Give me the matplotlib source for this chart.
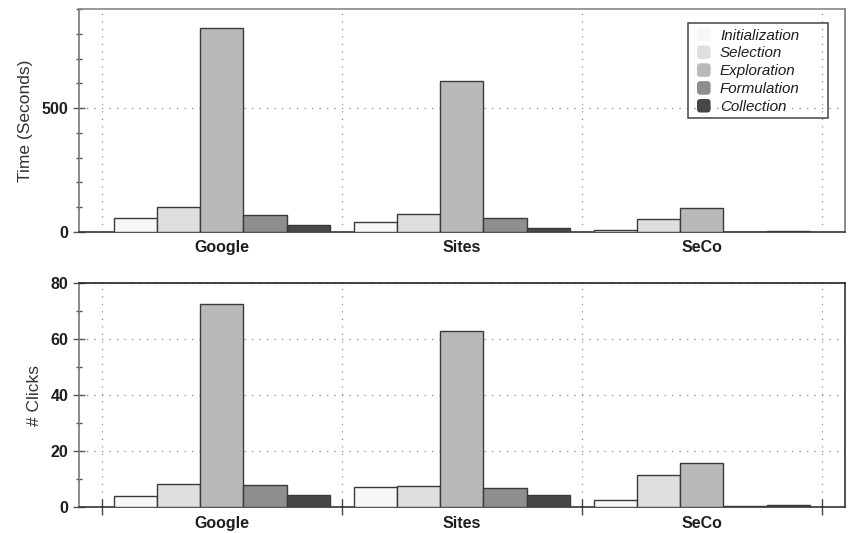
import matplotlib
matplotlib.use("Agg")
import matplotlib.pyplot as plt
from matplotlib.patches import Patch, Rectangle, FancyBboxPatch
from matplotlib.legend_handler import HandlerPatch
import numpy as np

plt.rcParams['font.family'] = ['Liberation Sans', 'DejaVu Sans']

groups = ["Google", "Sites", "SeCo"]
phases = ["Initialization", "Selection", "Exploration", "Formulation", "Collection"]
phase_colors = ["#f7f7f7", "#dfdfdf", "#b9b9b9", "#8e8e8e", "#474747"]

# time per phase (seconds), one list per phase, one value per group
time_init = [57, 40, 9]
time_selection = [100, 71, 51]
time_exploration = [823, 609, 96]
time_formulation = [67, 58, 1]
time_collection = [28, 17, 3]

# clicks per phase
clicks_init = [3.9, 7.1, 2.5]
clicks_selection = [8.3, 7.7, 11.6]
clicks_exploration = [72.5, 62.9, 15.9]
clicks_formulation = [7.9, 6.8, 0.4]
clicks_collection = [4.4, 4.3, 1.0]

time_series = [time_init, time_selection, time_exploration, time_formulation, time_collection]
click_series = [clicks_init, clicks_selection, clicks_exploration, clicks_formulation, clicks_collection]

fig = plt.figure(figsize=(8.53, 5.33), dpi=100)
ax_t = fig.add_axes([0.0926, 0.5647, 0.898, 0.4184])
ax_c = fig.add_axes([0.0926, 0.0482, 0.898, 0.4203])

x = np.arange(1, len(groups) + 1)
bw = 0.18
offsets = (np.arange(len(phases)) - 2) * bw
text_col = "#1e1e1e"


def draw_panel(ax, series, ylim, major, minor, ylabel, sep_ticks):
    for vals, off, col in zip(series, offsets, phase_colors):
        ax.bar(x + off, vals, width=bw, color=col, edgecolor="#3a3a3a",
               linewidth=1.0, zorder=3)
    ax.set_xlim(0.405, 3.597)
    ax.set_ylim(*ylim)
    ax.set_yticks(major)
    ax.set_yticks(minor, minor=True)
    ax.set_yticklabels([str(v) for v in major], fontsize=11.5,
                       fontweight="bold", color=text_col)
    ax.set_xticks([0.5, 1.5, 2.5, 3.5])
    ax.set_xticklabels([])
    ax.set_xticks(x, minor=True)
    ax.set_xticklabels(groups, minor=True, fontsize=11.5,
                       fontweight="bold", color=text_col)
    ax.tick_params(axis="x", which="minor", length=0, pad=6)
    if sep_ticks:
        ax.tick_params(axis="x", which="major", direction="inout",
                       length=11, width=1.0, color="#444444")
    else:
        ax.tick_params(axis="x", which="major", length=0)
    ax.tick_params(axis="y", which="major", direction="inout", length=9,
                   width=1.0, color="#555555", pad=3)
    ax.tick_params(axis="y", which="minor", direction="inout", length=5,
                   width=1.0, color="#555555")
    ax.grid(True, which="major", linestyle=(0, (1, 5)), color="#8a8a8a",
            linewidth=0.9, zorder=0)
    ax.set_axisbelow(True)
    ax.set_ylabel(ylabel, fontsize=12.5, color="#333333", labelpad=6)
    for side in ["top", "right", "bottom", "left"]:
        ax.spines[side].set_linewidth(1.2)


draw_panel(ax_t, time_series, (0, 900), [0, 500], list(range(0, 901, 100)),
           "Time (Seconds)", False)
draw_panel(ax_c, click_series, (0, 80), [0, 20, 40, 60, 80],
           list(range(0, 81, 10)), "# Clicks", True)

ax_t.spines["top"].set_color("#888888")
ax_t.spines["left"].set_color("#777777")
ax_t.spines["right"].set_color("#777777")
ax_t.spines["bottom"].set_color("#333333")
ax_c.spines["top"].set_color("#222222")
ax_c.spines["left"].set_color("#777777")
ax_c.spines["right"].set_color("#333333")
ax_c.spines["bottom"].set_color("#333333")


def rounded_key(legend, orig_handle, xdescent, ydescent, width, height, fontsize):
    return FancyBboxPatch((-xdescent, -ydescent), width, height,
                          boxstyle="round,pad=0,rounding_size=2.5")


# legend box drawn as its own rectangle, wider than its entries
ax_t.add_patch(Rectangle((0.795, 0.5126), 0.1824, 0.4234,
                         transform=ax_t.transAxes, fill=False,
                         edgecolor="#444444", linewidth=1.1, zorder=5))

handles = [Patch(facecolor=c, edgecolor="none") for c in phase_colors]
leg = ax_t.legend(handles, phases, loc="upper left",
                  bbox_to_anchor=(0.8068, 0.9165), borderaxespad=0,
                  frameon=False, prop={"style": "italic", "size": 10.9},
                  handlelength=0.9, handleheight=1.0, handletextpad=0.62,
                  labelspacing=0.19, borderpad=0,
                  handler_map={Patch: HandlerPatch(patch_func=rounded_key)})
for t in leg.get_texts():
    t.set_color("#1e1e1e")

fig.savefig("out.png", dpi=100)
